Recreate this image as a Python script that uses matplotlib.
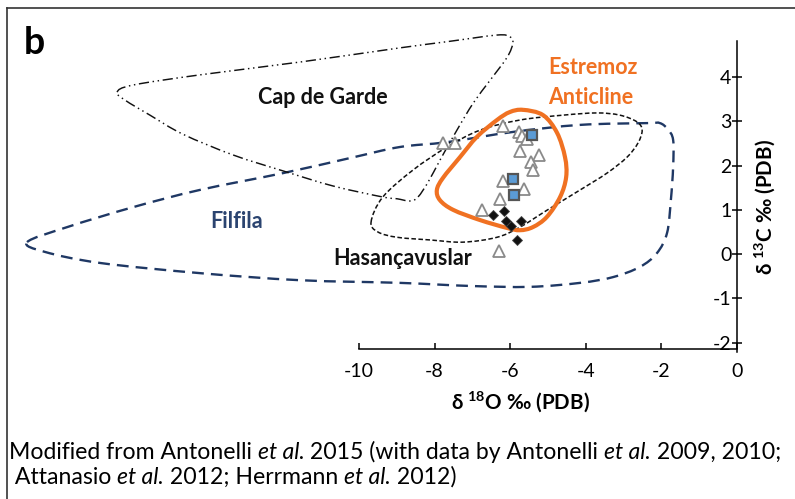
import numpy as np
import matplotlib
matplotlib.use("Agg")
import matplotlib.pyplot as plt
from matplotlib.path import Path
from matplotlib.patches import PathPatch
from matplotlib.lines import Line2D
from matplotlib.transforms import offset_copy

plt.rcParams['font.family'] = ['Lato', 'DejaVu Sans']
plt.rcParams['mathtext.fontset'] = 'custom'
plt.rcParams['mathtext.rm'] = 'Lato'
plt.rcParams['mathtext.it'] = 'Lato:italic'
plt.rcParams['mathtext.bf'] = 'Lato:bold'

# ---------------- data (delta18O, delta13C) ----------------
tri_x = [-6.20, -5.76, -5.68, -5.56, -5.74, -5.23, -5.46, -5.39, -6.20, -5.63, -6.27, -6.75, -6.30, -7.77, -7.46]
tri_y = [2.89, 2.76, 2.66, 2.59, 2.33, 2.24, 2.09, 1.90, 1.66, 1.46, 1.25, 1.00, 0.07, 2.52, 2.52]

sq_x = [-5.43, -5.92, -5.90]
sq_y = [2.69, 1.69, 1.34]

dia_x = [-6.45, -6.16, -6.11, -5.99, -5.72, -5.83]
dia_y = [0.88, 0.98, 0.75, 0.64, 0.75, 0.32]

# field outlines (vertices of closed curves)
capgarde_x = [-16.40, -15.98, -14.21, -11.56, -8.92, -7.67, -6.35, -6.01, -5.93, -6.08, -6.53, -6.98,
              -7.41, -7.86, -8.17, -8.44, -8.65, -8.99, -9.37, -10.69, -12.01, -13.33, -14.66, -15.53, -16.19]
capgarde_y = [3.66, 3.82, 4.05, 4.34, 4.66, 4.80, 4.95, 4.91, 4.77, 4.45, 3.93, 3.41,
              2.80, 2.12, 1.63, 1.29, 1.20, 1.25, 1.29, 1.54, 1.88, 2.24, 2.71, 3.14, 3.48]

filfila_x = [-18.78, -17.72, -15.98, -14.21, -12.01, -10.24, -8.92, -7.67, -5.93, -4.15, -2.38, -2.04,
             -1.83, -1.69, -1.69, -1.75, -1.85, -2.12, -2.57, -3.28, -4.15, -5.48, -7.06, -8.92,
             -11.56, -14.21, -16.85, -18.31]
filfila_y = [0.27, 0.61, 1.06, 1.45, 1.83, 2.17, 2.42, 2.53, 2.76, 2.92, 2.96, 2.96,
             2.82, 2.58, 1.97, 1.22, 0.48, 0.02, -0.29, -0.52, -0.65, -0.74, -0.72, -0.65,
             -0.59, -0.43, -0.20, 0.05]

hasan_x = [-9.68, -9.37, -8.57, -7.67, -6.80, -5.74, -4.60, -3.70, -3.10, -2.65, -2.51, -2.62,
           -2.91, -3.44, -4.15, -5.03, -5.74, -6.35, -7.25, -8.12, -8.99, -9.50]
hasan_y = [0.73, 1.29, 1.90, 2.42, 2.80, 3.03, 3.14, 3.19, 3.14, 2.99, 2.80, 2.51,
           2.19, 1.83, 1.45, 0.99, 0.61, 0.38, 0.27, 0.32, 0.38, 0.50]

estremoz_x = [-5.66, -5.13, -4.76, -4.55, -4.52, -4.68, -5.03, -5.40, -5.74, -6.08, -6.80, -7.51,
              -7.86, -7.94, -7.78, -7.33, -6.88, -6.35, -6.01]
estremoz_y = [3.26, 3.14, 2.74, 2.19, 1.74, 1.29, 0.84, 0.61, 0.54, 0.59, 0.77, 1.00,
              1.22, 1.45, 1.72, 2.19, 2.65, 3.03, 3.21]

x_ticks = [-10, -8, -6, -4, -2, 0]
y_ticks = [-2, -1, 0, 1, 2, 3, 4]

caption_line1 = [("Modified from Antonelli ", "normal"), ("et al.", "italic"),
                 (" 2015 (with data by Antonelli ", "normal"), ("et al.", "italic"),
                 (" 2009, 2010;", "normal")]
caption_line2 = [(" Attanasio ", "normal"), ("et al.", "italic"), (" 2012; Herrmann ", "normal"),
                 ("et al.", "italic"), (" 2012)", "normal")]

# ---------------- helpers ----------------
def closed_curve(xs, ys):
    pts = np.column_stack([xs, ys]).astype(float)
    n = len(pts)
    verts = [pts[0]]
    codes = [Path.MOVETO]
    for i in range(n):
        p0, p1, p2, p3 = pts[i - 1], pts[i], pts[(i + 1) % n], pts[(i + 2) % n]
        verts += [p1 + (p2 - p0) / 6.0, p2 - (p3 - p1) / 6.0, p2]
        codes += [Path.CURVE4] * 3
    return Path(verts, codes)


def rich_line(fig, x, y, runs, fontsize):
    renderer = fig.canvas.get_renderer()
    t = fig.transFigure
    dx = 0.0
    for txt, style in runs:
        tr = offset_copy(t, fig=fig, x=dx, y=0, units='dots')
        fig.text(x, y, txt, transform=tr, ha='left', va='baseline',
                 fontsize=fontsize, fontstyle=style)
        probe = fig.text(0, 0, txt.replace(' ', '\u00a0') + '|', fontsize=fontsize,
                         fontstyle=style)
        bar = fig.text(0, 0, '|', fontsize=fontsize, fontstyle=style)
        w = probe.get_window_extent(renderer).width - bar.get_window_extent(renderer).width
        probe.remove()
        bar.remove()
        dx += w

# ---------------- figure ----------------
W, H = 795, 499
fig = plt.figure(figsize=(W / 100, H / 100), dpi=100)
ax = fig.add_axes([0, 0, 1, 1])
ax.set_xlim(-19.497, 1.534)
ax.set_ylim(-5.534, 5.742)
ax.patch.set_alpha(0)

navy = '#1F3864'
orange = '#F07122'

ax.add_patch(PathPatch(closed_curve(filfila_x, filfila_y), fill=False, edgecolor=navy,
                       lw=1.7, linestyle=(0, (5, 3)), zorder=2))
ax.add_patch(PathPatch(closed_curve(capgarde_x, capgarde_y), fill=False, edgecolor='#111111',
                       lw=1.05, linestyle=(0, (7, 2.5, 1, 2.5, 1, 2.5)), zorder=2))
ax.add_patch(PathPatch(closed_curve(hasan_x, hasan_y), fill=False, edgecolor='#111111',
                       lw=1.1, linestyle=(0, (3, 1.6)), zorder=2))
ax.add_patch(PathPatch(closed_curve(estremoz_x, estremoz_y), fill=False, edgecolor=orange,
                       lw=3.0, zorder=3))

ax.plot(tri_x, tri_y, linestyle='none', marker='^', ms=8.8, mfc='white', mec='#8a8a8a',
        mew=1.3, zorder=4)
ax.plot(dia_x, dia_y, linestyle='none', marker='D', ms=5.5, mfc='#111111', mec='#444444',
        mew=0.6, zorder=5)
ax.plot(sq_x, sq_y, linestyle='none', marker='s', ms=6.5, mfc='#5B9BD5', mec='#555555',
        mew=1.6, zorder=5)

# axes
for s in ['top', 'right']:
    ax.spines[s].set_visible(False)
ax.spines['bottom'].set_position(('data', -2.145))
ax.spines['bottom'].set_bounds(-10, 0)
ax.spines['left'].set_position(('data', 0))
ax.spines['left'].set_bounds(-2.22, 4.81)
for s in ['bottom', 'left']:
    ax.spines[s].set_linewidth(1.1)
    ax.spines[s].set_zorder(6)
ax.set_xticks(x_ticks)
ax.set_xticklabels([str(v) for v in x_ticks])
ax.set_yticks(y_ticks)
ax.set_yticklabels([str(v) for v in y_ticks])
ax.tick_params(axis='x', direction='in', length=4.5, width=1.1, labelsize=14, pad=10)
ax.tick_params(axis='y', direction='inout', length=7, width=1.1, labelsize=14, pad=0.5)
for lab in ax.get_xticklabels() + ax.get_yticklabels():
    lab.set_fontfamily(['Lato', 'DejaVu Sans'])

ax.text(-5.74, -3.34, r"δ $^{\mathbf{18}}$O ‰ (PDB)", ha='center', va='center',
        fontsize=14.8, fontweight='bold')
ax.text(0.74, 1.06, r"δ $^{\mathbf{13}}$C ‰ (PDB)", ha='center', va='center',
        fontsize=14.8, fontweight='bold', rotation=90)

# region labels
ax.text(-10.97, 3.55, "Cap de Garde", ha='center', va='center', fontsize=15.5,
        fontweight='bold', color='#111111')
ax.text(-5.0, 4.21, "Estremoz", ha='left', va='center', fontsize=15.5,
        fontweight='bold', color=orange)
ax.text(-5.0, 3.55, "Anticline", ha='left', va='center', fontsize=15.5,
        fontweight='bold', color=orange)
ax.text(-13.24, 0.73, "Filfila", ha='center', va='center', fontsize=15.5,
        fontweight='bold', color='#2B4470')
ax.text(-8.85, -0.09, "Hasançavuslar", ha='center', va='center', fontsize=15.5,
        fontweight='bold', color='#111111')

# panel letter and frame
fig.text(34 / W, 1 - 43 / H, "b", ha='center', va='center', fontsize=27, fontweight='bold')
fig.add_artist(Line2D([7 / W, 7 / W], [0, 1 - 8 / H], transform=fig.transFigure,
                      color='#333333', lw=1.2))
fig.add_artist(Line2D([7 / W, 1], [1 - 8 / H, 1 - 8 / H], transform=fig.transFigure,
                      color='#333333', lw=1.2))

# caption
rich_line(fig, 9 / W, 1 - 459 / H, caption_line1, 16.6)
rich_line(fig, 9 / W, 1 - 484 / H, caption_line2, 16.6)

fig.savefig("out.png", dpi=100)
